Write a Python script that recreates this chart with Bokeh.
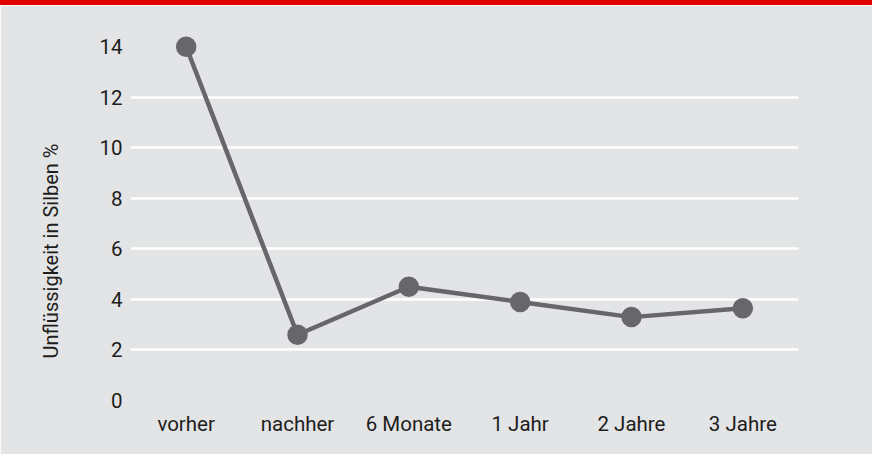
from bokeh.plotting import figure
from bokeh.models import FactorRange, Range1d, FixedTicker, Title, Div
from bokeh.layouts import column
from bokeh.embed import file_html
from bokeh.resources import INLINE

categories = ["vorher", "nachher", "6 Monate", "1 Jahr", "2 Jahre", "3 Jahre"]
values = [14.0, 2.6, 4.5, 3.9, 3.3, 3.65]
y_ticks = [0, 2, 4, 6, 8, 10, 12, 14]
grid_ticks = [0, 2, 4, 6, 8, 10, 12]
y_title = "Unflüssigkeit in Silben %"

BG = "#e3e4e6"
LINE = "#67666a"
TXT = "#1d1d1b"
FONT = "Roboto"

p = figure(x_range=FactorRange(*categories), y_range=Range1d(0, 15),
           width=872, height=449, output_backend="svg", toolbar_location=None,
           min_border_left=130, min_border_right=74, min_border_top=16, min_border_bottom=54)
p.background_fill_color = BG
p.border_fill_color = BG
p.outline_line_color = BG
p.outline_line_width = 2

p.line(categories, values, line_color=LINE, line_width=4.5)
p.scatter(categories, values, size=20.5, fill_color=LINE, line_color=None)

p.xgrid.grid_line_color = None
p.ygrid.ticker = FixedTicker(ticks=grid_ticks)
p.ygrid.grid_line_color = "white"
p.ygrid.grid_line_width = 2.5

p.yaxis.ticker = FixedTicker(ticks=y_ticks)
for ax in (p.xaxis[0], p.yaxis[0]):
    ax.axis_line_color = None
    ax.major_tick_line_color = None
    ax.minor_tick_line_color = None
    ax.major_tick_out = 0
    ax.major_tick_in = 0
    ax.minor_tick_out = 0
    ax.major_label_text_font = FONT
    ax.major_label_text_font_size = "20.5px"
    ax.major_label_text_color = TXT
p.xaxis.major_label_standoff = 11
p.yaxis.major_label_standoff = 8

ttl = Title(text=y_title, align="left", offset=42, standoff=68,
            text_font=FONT, text_font_size="20px", text_font_style="normal",
            text_color=TXT)
p.add_layout(ttl, "left")

band = Div(width=872, height=5, styles={"background-color": "#e30000"}, margin=0)
layout = column(band, p, spacing=0)

open("out.html", "w").write(file_html(layout, INLINE))
